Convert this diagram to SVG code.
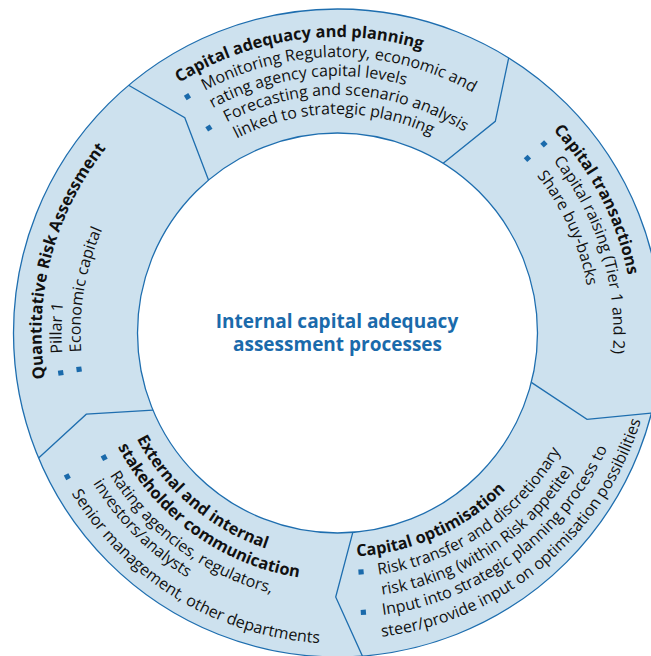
<svg xmlns="http://www.w3.org/2000/svg" width="651" height="656" viewBox="0 0 651 656">
  <style>
    .ring { fill: #cde1ee; stroke: #1e6eaf; stroke-width: 1.3; }
    .hole { fill: #ffffff; stroke: #1e6eaf; stroke-width: 1.3; }
    .div  { fill: none; stroke: #1e6eaf; stroke-width: 1.3; stroke-linejoin: miter; }
    text  { font-family: "Open Sans", "Noto Sans", "DejaVu Sans", sans-serif; fill: #111111; }
    .h    { font-size: 16.4px; font-weight: 700; }
    .b    { font-size: 16px; }
    .c    { font-size: 19px; font-weight: 700; fill: #1a6aab; text-anchor: middle; }
    .dot  { fill: #1a6aab; }
  </style>
  <defs>
    <!-- clockwise baselines around the ring centre (337.5,333), starting at angle 0 -->
    <path id="cw296" d="M 633.5 333 A 296 296 0 1 1 41.5 333 A 296 296 0 1 1 633.5 333"/>
    <path id="cw276" d="M 613.5 333 A 276 276 0 1 1 61.5 333 A 276 276 0 1 1 613.5 333"/>
    <path id="cw257" d="M 594.5 333 A 257 257 0 1 1 80.5 333 A 257 257 0 1 1 594.5 333"/>
    <path id="cw254" d="M 591.5 333 A 254 254 0 1 1 83.5 333 A 254 254 0 1 1 591.5 333"/>
    <path id="cw238" d="M 575.5 333 A 238 238 0 1 1 99.5 333 A 238 238 0 1 1 575.5 333"/>
    <path id="cw219" d="M 556.5 333 A 219 219 0 1 1 118.5 333 A 219 219 0 1 1 556.5 333"/>
    <!-- counter-clockwise baselines around the ring centre -->
    <path id="ccw227" d="M 564.5 333 A 227 227 0 1 0 110.5 333 A 227 227 0 1 0 564.5 333"/>
    <path id="ccw247" d="M 585 333 A 247.5 247.5 0 1 0 90 333 A 247.5 247.5 0 1 0 585 333"/>
    <path id="ccw268" d="M 606 333 A 268.5 268.5 0 1 0 69 333 A 268.5 268.5 0 1 0 606 333"/>
    <path id="ccw287" d="M 624.5 333 A 287 287 0 1 0 50.5 333 A 287 287 0 1 0 624.5 333"/>
    <path id="ccw310" d="M 648 333 A 310.5 310.5 0 1 0 27 333 A 310.5 310.5 0 1 0 648 333"/>
    <!-- counter-clockwise baselines for the optimisation block, centre (344,328) -->
    <path id="b228" d="M 572.6 328 A 228.6 228.6 0 1 0 115.4 328 A 228.6 228.6 0 1 0 572.6 328"/>
    <path id="b249" d="M 593 328 A 249 249 0 1 0 95 328 A 249 249 0 1 0 593 328"/>
    <path id="b269" d="M 613.5 328 A 269.5 269.5 0 1 0 74.5 328 A 269.5 269.5 0 1 0 613.5 328"/>
    <path id="b289" d="M 633.5 328 A 289.5 289.5 0 1 0 54.5 328 A 289.5 289.5 0 1 0 633.5 328"/>
    <path id="b311" d="M 655 328 A 311 311 0 1 0 33 328 A 311 311 0 1 0 655 328"/>
    <rect id="sq" x="-2.6" y="-2.6" width="5.2" height="5.2"/>
  </defs>

  <rect width="651" height="656" fill="#ffffff"/>

  <!-- ring -->
  <g id="ring">
    <circle class="ring" cx="337.5" cy="333" r="324"/>
    <circle class="hole" cx="337.5" cy="333" r="200"/>
  </g>

  <!-- segment boundaries -->
  <g id="connectors">
    <polyline class="div" points="128.6,85.3 184.8,117.7 208.5,180.1"/>
    <polyline class="div" points="508.7,57.9 495.3,121.3 443.2,163.2"/>
    <polyline class="div" points="531.3,382.4 587.0,419.4 651.4,413.0"/>
    <polyline class="div" points="352.8,532.4 335.7,597.0 362.4,656.1"/>
    <polyline class="div" points="153.0,410.2 86.3,414.2 38.6,458.0"/>
  </g>

  <g id="centre">
    <text class="c" x="337" y="328">Internal capital adequacy</text>
    <text class="c" x="337.5" y="351">assessment processes</text>
  </g>

  <g id="capital-adequacy">
    <text class="h" transform="rotate(-122.3 337.5 333)"><textPath href="#cw296">Capital adequacy and planning</textPath></text>
    <use href="#sq" class="dot" transform="rotate(-122.4 337.5 333) translate(617.5 333)"/>
    <text class="b" transform="rotate(-118.7 337.5 333)"><textPath href="#cw276">Monitoring Regulatory, economic and</textPath></text>
    <text class="b" transform="rotate(-119.0 337.5 333)"><textPath href="#cw257">rating agency capital levels</textPath></text>
    <use href="#sq" class="dot" transform="rotate(-122.1 337.5 333) translate(579.5 333)"/>
    <text class="b" transform="rotate(-117.7 337.5 333)"><textPath href="#cw238">Forecasting and scenario analysis</textPath></text>
    <text class="b" transform="rotate(-117.4 337.5 333)"><textPath href="#cw219">linked to strategic planning</textPath></text>
  </g>

  <g id="capital-transactions">
    <text class="h" transform="rotate(-43.2 337.5 333)"><textPath href="#cw296">Capital transactions</textPath></text>
    <use href="#sq" class="dot" transform="rotate(-42.5 337.5 333) translate(617.5 333)"/>
    <text class="b" transform="rotate(-38.6 337.5 333)"><textPath href="#cw276">Capital raising (Tier 1 and 2)</textPath></text>
    <use href="#sq" class="dot" transform="rotate(-42.6 337.5 333) translate(595.5 333)"/>
    <text class="b" transform="rotate(-38.3 337.5 333)"><textPath href="#cw254">Share buy-backs</textPath></text>
  </g>

  <g id="capital-optimisation">
    <text class="h" transform="rotate(86.8 344 328)"><textPath href="#b228">Capital optimisation</textPath></text>
    <use href="#sq" class="dot" transform="rotate(86.0 344 328) translate(588.5 328)"/>
    <text class="b" transform="rotate(82.06 344 328)"><textPath href="#b249">Risk transfer and discretionary</textPath></text>
    <text class="b" transform="rotate(81.9 344 328)"><textPath href="#b269">risk taking (within Risk appetite)</textPath></text>
    <use href="#sq" class="dot" transform="rotate(86.1 344 328) translate(629 328)"/>
    <text class="b" transform="rotate(82.3 344 328)"><textPath href="#b289">Input into strategic planning process to</textPath></text>
    <text class="b" transform="rotate(83.0 344 328)"><textPath href="#b311">steer/provide input on optimisation possibilities</textPath></text>
  </g>

  <g id="stakeholder-communication">
    <text class="h" transform="rotate(152.2 337.5 333)"><textPath href="#ccw227">External and internal</textPath></text>
    <text class="h" transform="rotate(152.6 337.5 333)"><textPath href="#ccw247">stakeholder communication</textPath></text>
    <use href="#sq" class="dot" transform="rotate(151.9 337.5 333) translate(602 333)"/>
    <text class="b" transform="rotate(148.0 337.5 333)"><textPath href="#ccw268">Rating agencies, regulators,</textPath></text>
    <text class="b" transform="rotate(148.4 337.5 333)"><textPath href="#ccw287">investors/analysts</textPath></text>
    <use href="#sq" class="dot" transform="rotate(152.0 337.5 333) translate(643.5 333)"/>
    <text class="b" transform="rotate(148.9 337.5 333)"><textPath href="#ccw310">Senior management, other departments</textPath></text>
  </g>

  <g id="quantitative-risk">
    <text class="h" transform="rotate(171.2 337.5 333)"><textPath href="#cw296">Quantitative Risk Assessment</textPath></text>
    <use href="#sq" class="dot" transform="rotate(171.8 337.5 333) translate(617.1 333)"/>
    <text class="b" transform="rotate(175.8 337.5 333)"><textPath href="#cw276">Pillar 1</textPath></text>
    <use href="#sq" class="dot" transform="rotate(172.0 337.5 333) translate(598.5 333)"/>
    <text class="b" transform="rotate(175.8 337.5 333)"><textPath href="#cw257">Economic capital</textPath></text>
  </g>
</svg>
